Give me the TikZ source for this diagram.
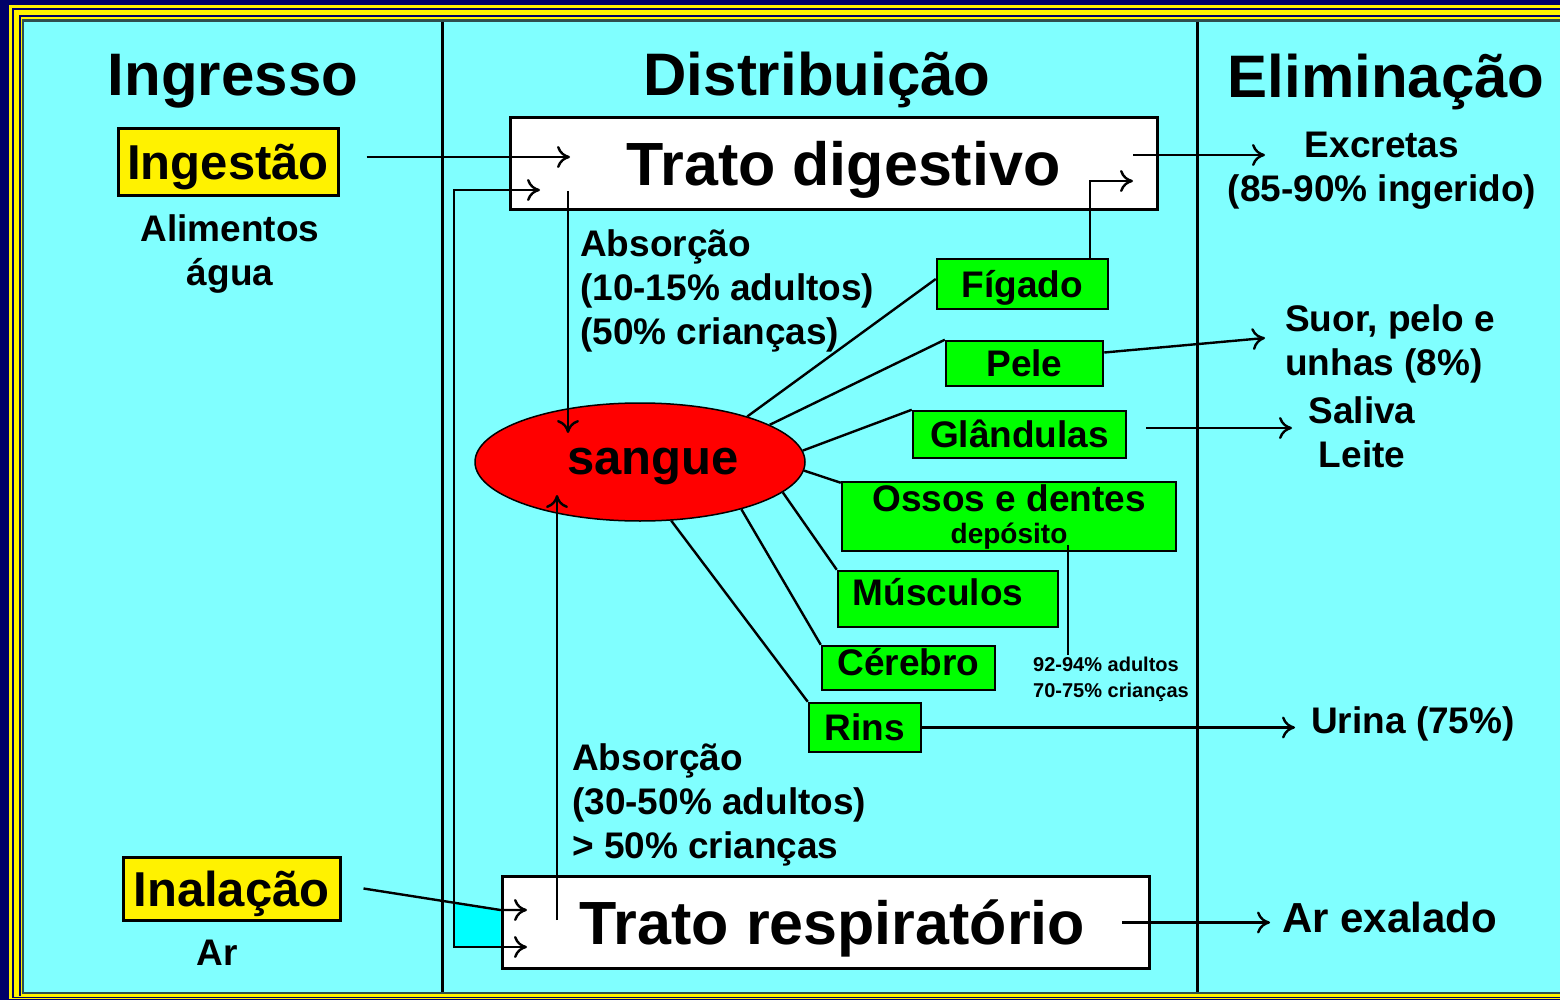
\documentclass[tikz,border=0pt]{standalone}
\usepackage{fontspec}
\setmainfont{Liberation Sans}
\usetikzlibrary{positioning,shapes.geometric,arrows.meta}
\definecolor{navy}{HTML}{000068}
\definecolor{bgcyan}{HTML}{80FFFF}
\definecolor{flap}{HTML}{00FFFF}
\definecolor{lgreen}{HTML}{00FF00}
\definecolor{rim}{HTML}{2F4F4F}

\begin{document}
\begin{tikzpicture}[x=1pt, y=-1pt, every node/.style={inner sep=0pt, font=\bfseries},
  hd/.style={anchor=base, font=\bfseries\fontsize{60}{60}\selectfont},
  tbox/.style={draw, fill=white, line width=3pt, minimum width=647pt, minimum height=92pt, text height=43.7pt, text depth=0pt, font=\bfseries\fontsize{61}{61}\selectfont},
  ybox/.style={draw, fill=yellow, line width=3pt, text height=35pt, text depth=0pt, font=\bfseries\fontsize{49}{49}\selectfont},
  gfill/.style={draw, fill=lgreen, line width=2.5pt, font=\bfseries\fontsize{37}{44}\selectfont},
  gbox/.style={gfill, text height=26.5pt, text depth=0pt},
  lbl/.style={align=left, font=\bfseries\fontsize{37}{44}\selectfont},
  lnk/.style={line width=2.4pt},
  arr/.style={line width=2.4pt, -{To[length=13pt,width=22pt]}},
  arr2/.style={line width=2.4pt, {To[length=13pt,width=22pt]}-{To[length=13pt,width=22pt]}}]
  \useasboundingbox (0,0) rectangle (1560,1000);
  \fill[navy] (0,0) rectangle (1560,1000);
  \fill[yellow] (9,5) rectangle (1560,999);
  \fill[navy] (12,8) rectangle (1560,997.5);
  \fill[yellow] (13.5,10) rectangle (1560,997);
  \fill[navy] (19,15) rectangle (1560,996);
  \fill[yellow] (20.5,17) rectangle (1560,995.5);
  \fill[rim] (22,19.5) rectangle (1560,994);
  \fill[bgcyan] (24,22) rectangle (1560,992);
  \draw[line width=3pt] (442,22) -- (442,992) (1197,22) -- (1197,992);
  \fill[flap] (454,902.6) -- (500.5,910) -- (500.5,947) -- (454,947) -- cycle;

  \node[hd] (hing) at (233,96) {Ingresso};
  \node[hd] (hdis) at (817,96) {Distribuição};
  \node[hd] (heli) at (1386,98) {Eliminação};

  \node[tbox] (dig) at (833.5,164) {\hspace*{20pt}Trato digestivo};
  \node[tbox] (resp) at (825.5,922.5) {\hspace*{14pt}Trato respiratório};
  \node[ybox, minimum width=220pt, minimum height=67pt] (ing) at (228,162.5) {Ingestão};
  \node[ybox, minimum width=217pt, minimum height=63pt] (inal) at (231.5,888.5) {Inalação};
  \node[lbl, align=center, below=17pt of ing, xshift=2pt] (alim) {Alimentos\\água};
  \node[lbl, below=18.5pt of inal, xshift=-14pt] (ar) {Ar};

  \node[ellipse, draw, line width=1.5pt, fill=red, minimum width=330pt, minimum height=118pt, text height=25.5pt, text depth=0pt, font=\bfseries\fontsize{49}{49}\selectfont] (sg) at (640,462) {\hspace*{26pt}sangue};

  \node[gbox, minimum width=171pt, minimum height=50pt] (fig) at (1022.5,284) {Fígado};
  \node[gbox, minimum width=157pt, minimum height=45pt] (pel) at (1024.5,363.5) {Pele};
  \node[gbox, minimum width=213pt, minimum height=47pt] (gla) at (1019.5,434.5) {Glândulas};
  \node[gfill, align=center, minimum width=334pt, minimum height=69pt] (oss) at (1009,516.5) {Ossos e dentes\\[-12pt]{\fontsize{28}{28}\selectfont depósito}};
  \node[gbox, minimum width=220pt, minimum height=56pt, text depth=14pt] (mus) at (948,599) {Músculos\hspace*{20pt}};
  \node[gbox, minimum width=173pt, minimum height=44pt, text depth=12pt] (cer) at (908.5,668) {Cérebro};
  \node[gbox, minimum width=112pt, minimum height=49pt] (rin) at (865,727.5) {Rins};

  \node[lbl, anchor=north west] (abs1) at (580,229) {Absorção\\(10-15\% adultos)\\(50\% crianças)};
  \node[lbl, anchor=north west] (abs2) at (572,743) {Absorção\\(30-50\% adultos)\\> 50\% crianças};
  \node[lbl, align=center, anchor=north] (exc) at (1382,132) {Excretas\\(85-90\% ingerido)};
  \node[lbl, anchor=north west] (suor) at (1285,304) {Suor, pelo e\\unhas (8\%)};
  \node[lbl, align=center, anchor=north] (sal) at (1362,396) {Saliva\\Leite};
  \node[lbl, anchor=base west] (uri) at (1311,733) {Urina (75\%)};
  \node[lbl, anchor=base west, font=\bfseries\fontsize{42}{42}\selectfont] (exa) at (1282,932) {Ar exalado};
  \node[align=left, anchor=north west, font=\bfseries\fontsize{20}{26}\selectfont] (note) at (1033,657) {92-94\% adultos\\70-75\% crianças};

  \coordinate (ingTip) at (570,157);
  \coordinate (swA) at (540,190);
  \coordinate (swB) at (527,947);
  \coordinate (inTip) at (527,910);
  \coordinate (abA) at (568,191);
  \coordinate (abB) at (568,433);
  \coordinate (abC) at (557,920);
  \coordinate (abD) at (557,495);
  \coordinate (figTip) at (1133,181);
  \coordinate (exA) at (1133,155);
  \coordinate (exB) at (1265,155);
  \coordinate (suTip) at (1265,338);
  \coordinate (glTip) at (1292,428);
  \coordinate (urTip) at (1295,727.5);
  \coordinate (axA) at (1122,922.5);
  \coordinate (axB) at (1270,922.5);

  \draw[arr, shorten <=27pt] (ingTip -| ing.east) -- (ingTip);
  \draw[arr2] (swB) -- ++(-73,0) |- (swA);
  \draw[arr] ([xshift=22pt]inal.east) -- (resp.west |- inTip) -- (inTip);
  \draw[arr] (abA) -- (abB);
  \draw[arr] (abC) -- (abD);
  \draw[arr] ([xshift=67.5pt]fig.north) |- (figTip);
  \draw[arr] (exA) -- (exB);
  \draw[arr] ([yshift=11pt]pel.east) -- (suTip);
  \draw[arr, shorten <=19pt] (glTip -| gla.east) -- (glTip);
  \draw[arr] (rin.east) -- (urTip);
  \draw[arr] (axA) -- (axB);
  \draw[lnk] ([xshift=59pt,yshift=7pt]oss.south) -- ([xshift=35pt,yshift=2pt]note.north west);

  \draw[lnk] (sg.23) -- ([yshift=5pt]fig.west);
  \draw[lnk] (sg.16.7) -- (pel.north west);
  \draw[lnk] (sg.4) -- (gla.north west);
  \draw[lnk] (sg.-3.5) -- ([yshift=-2pt]oss.north west);
  \draw[lnk] (sg.-12.7) -- (mus.north west);
  \draw[lnk] (sg.-25) -- (cer.north west);
  \draw[lnk] (sg.-62) -- (rin.north west);
\end{tikzpicture}
\end{document}
